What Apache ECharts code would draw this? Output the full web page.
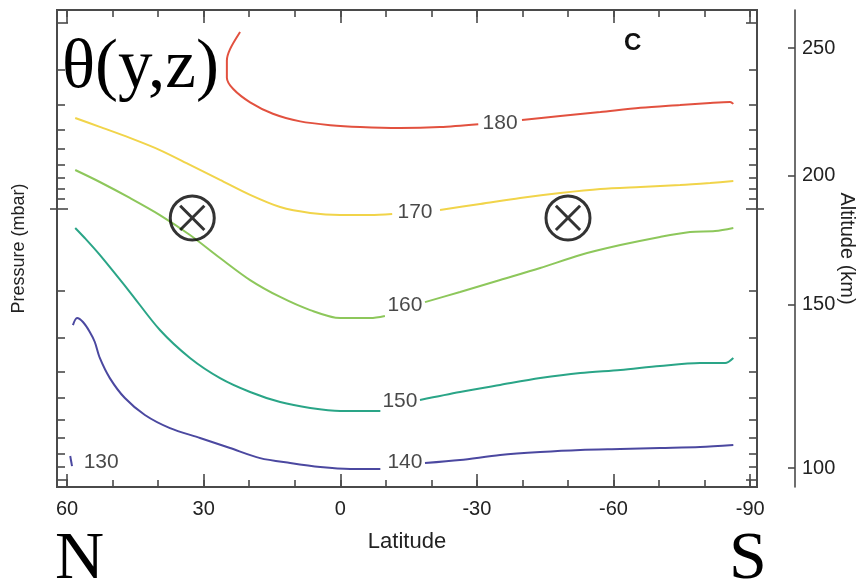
<!DOCTYPE html>
<html>
<head>
<meta charset="utf-8">
<script src="https://cdn.jsdelivr.net/npm/echarts@6/dist/echarts.min.js"></script>
<style>
  html, body { margin: 0; padding: 0; background: #fff; }
  #chart { width: 862px; height: 580px; }
</style>
</head>
<body>
<div id="chart"></div>
<script>
// Zonal-mean temperature contours (K) against latitude and log10 pressure (mbar).
// Each contour is a list of [latitude, log10(p)] points; null breaks the line where its label sits.

const LAT_LABELS = [60, 30, 0, -30, -60, -90];
const LAT_MINOR = [60, 50, 40, 30, 20, 10, 0, -10, -20, -30, -40, -50, -60, -70, -80, -90];
const LAT_RANGE = [-91.5, 62.2];

const LOGP_RANGE = [-1.026, 1.484];           // top / bottom of the frame
// pressure tick marks on the frame (log10 p)
const PRESSURE_TICK_MINOR = [-0.711, -0.526, -0.395, -0.295, -0.211, -0.142, -0.084, -0.032,
                             0.453, 0.700, 0.879, 1.016, 1.132, 1.226, 1.311, 1.379];
const PRESSURE_TICK_MAJOR = [-0.958, 0.021, 1.447];
const PRESSURE_TICK_CROSS = [0.021];

const ALT_KM = [250, 200, 150, 100];
const ALT_LOGP = [-0.826, -0.153, 0.526, 1.384];

const LEVELS = [180, 170, 160, 150, 140, 130];
const COLORS = ['#e2513f', '#f1d44a', '#8dc75b', '#2aa587', '#4b48a0', '#4b48a0'];

const T180 = [[22.0,-0.91],[24.2,-0.82],[24.9,-0.76],[24.9,-0.67],[23.5,-0.61],[19.8,-0.54],[14.8,-0.48],[8.8,-0.44],[2.2,-0.42],[-4.4,-0.41],[-13.1,-0.405],[-21.9,-0.41],[-30.3,-0.425],
  null,[-39.9,-0.447],[-48.3,-0.468],[-57.1,-0.489],[-65.9,-0.511],[-74.6,-0.526],[-81.2,-0.537],[-85.6,-0.542],[-86.3,-0.532]];
const T170 = [[58.2,-0.458],[52.8,-0.411],[46.2,-0.353],[39.6,-0.289],[33.0,-0.211],[26.4,-0.132],[19.8,-0.053],[13.2,0.011],[6.6,0.042],[0.0,0.053],[-6.6,0.053],[-11.4,0.047],
  null,[-21.9,0.026],[-30.7,-0.005],[-39.5,-0.037],[-48.3,-0.063],[-57.1,-0.084],[-65.9,-0.095],[-74.6,-0.105],[-81.2,-0.116],[-86.3,-0.126]];
const T160 = [[58.2,-0.184],[52.8,-0.121],[46.2,-0.037],[39.6,0.053],[33.0,0.158],[26.4,0.279],[19.8,0.395],[13.2,0.484],[6.6,0.553],[0.0,0.595],[-6.6,0.595],[-9.8,0.584],
  null,[-18.6,0.511],[-26.3,0.458],[-35.1,0.395],[-43.9,0.332],[-52.7,0.263],[-61.5,0.211],[-70.2,0.168],[-76.8,0.142],[-82.3,0.137],[-86.3,0.121]];
const T150 = [[58.2,0.121],[56.1,0.174],[52.8,0.263],[46.2,0.458],[39.6,0.658],[33.0,0.805],[26.4,0.911],[19.8,0.984],[13.2,1.037],[6.6,1.068],[0.0,1.084],[-8.8,1.084],
  null,[-17.5,1.026],[-26.3,0.984],[-35.1,0.947],[-43.9,0.911],[-52.7,0.884],[-61.5,0.868],[-70.2,0.847],[-79.0,0.832],[-84.5,0.832],[-86.3,0.805]];
const T140 = [[58.7,0.632],[57.8,0.595],[56.5,0.616],[55.0,0.668],[53.9,0.721],[52.8,0.805],[50.6,0.911],[47.3,1.016],[42.9,1.105],[37.4,1.174],[30.8,1.226],[24.2,1.279],[17.6,1.332],[11.0,1.358],[4.4,1.379],[-2.2,1.389],[-8.8,1.389],
  null,[-18.6,1.358],[-26.3,1.342],[-35.1,1.316],[-43.9,1.300],[-52.7,1.289],[-61.5,1.284],[-70.2,1.279],[-79.0,1.274],[-86.3,1.263]];
const T130 = [[59.3,1.321],[58.9,1.374]];
const CONTOURS = [T180, T170, T160, T150, T140, T130];

// contour label anchors: [lat, log10 p, level]
const LABEL_AT = [[-35.1,-0.432,180],[-16.4,0.037,170],[-14.2,0.526,160],[-13.1,1.032,150],[-14.2,1.353,140],[52.5,1.353,130]];

// jets flowing into the page: [lat, log10 p]
const JETS = [[32.5,0.068],[-50.0,0.068]];

const AXIS_COLOR = '#4a4a4a';
const SANS = 'Liberation Sans, Arial, Helvetica, sans-serif';
const SERIF = 'Liberation Serif, Times New Roman, serif';

const circleCross = 'path://M0,-20A20,20,0,1,1,0,20A20,20,0,1,1,0,-20ZM-11,-11L11,11M11,-11L-11,11';

function latAxis(pos, ticks, len, withLabels) {
  return {
    type: 'value', position: pos, min: LAT_RANGE[0], max: LAT_RANGE[1], inverse: true,
    axisLine: { show: false, onZero: false }, splitLine: { show: false },
    axisTick: { show: true, inside: true, length: len, customValues: ticks,
      lineStyle: { color: AXIS_COLOR, width: 1.6 } },
    axisLabel: withLabels
      ? { show: true, customValues: LAT_LABELS, fontSize: 20, color: '#222', fontFamily: SANS, margin: 12 }
      : { show: false }
  };
}
function pAxis(pos, ticks, len, inside) {
  return {
    type: 'value', position: pos, min: LOGP_RANGE[0], max: LOGP_RANGE[1], inverse: true,
    axisLine: { show: false, onZero: false }, splitLine: { show: false }, axisLabel: { show: false },
    axisTick: { show: true, inside: inside, length: len, customValues: ticks,
      lineStyle: { color: AXIS_COLOR, width: 1.6 } }
  };
}

const xAxes = [
  Object.assign(latAxis('bottom', LAT_MINOR, 7, true), {
    name: 'Latitude', nameLocation: 'middle', nameGap: 44, nameMoveOverlap: false,
    nameTextStyle: { fontSize: 22, color: '#222', fontFamily: SANS } }),
  latAxis('bottom', LAT_LABELS, 13, false),
  latAxis('top', LAT_MINOR, 7, false),
  latAxis('top', LAT_LABELS, 13, false)
];

const yAxes = [
  Object.assign(pAxis('left', PRESSURE_TICK_MINOR, 8, true), {
    name: 'Pressure (mbar)', nameLocation: 'middle', nameRotate: 90, nameGap: 29, nameMoveOverlap: false,
    nameTextStyle: { fontSize: 18, color: '#222', fontFamily: SANS } }),
  pAxis('left', PRESSURE_TICK_MAJOR, 11, true),
  pAxis('left', PRESSURE_TICK_CROSS, 7, false),
  pAxis('right', PRESSURE_TICK_MINOR, 8, true),
  pAxis('right', PRESSURE_TICK_MAJOR, 11, true),
  pAxis('right', PRESSURE_TICK_CROSS, 7, false),
  {
    type: 'value', position: 'right', offset: 38, min: LOGP_RANGE[0], max: LOGP_RANGE[1], inverse: true,
    splitLine: { show: false },
    axisLine: { show: true, onZero: false, lineStyle: { color: AXIS_COLOR, width: 1.6 } },
    axisTick: { show: true, inside: true, length: 7, customValues: ALT_LOGP,
      lineStyle: { color: AXIS_COLOR, width: 1.6 } },
    axisLabel: { show: true, customValues: ALT_LOGP, margin: 7, fontSize: 20, color: '#222', fontFamily: SANS,
      formatter: v => {
        let best = 0;
        ALT_LOGP.forEach((a, i) => { if (Math.abs(a - v) < Math.abs(ALT_LOGP[best] - v)) best = i; });
        return String(ALT_KM[best]);
      } },
    name: 'Altitude (km)', nameLocation: 'middle', nameRotate: -90, nameGap: 42, nameMoveOverlap: false,
    nameTextStyle: { fontSize: 20, color: '#222', fontFamily: SANS }
  }
];

const series = CONTOURS.map((pts, i) => ({
  type: 'line', name: String(LEVELS[i]), data: pts.map(p => p === null ? '-' : p),
  xAxisIndex: 0, yAxisIndex: 0, showSymbol: false, smooth: 0.3, connectNulls: false,
  lineStyle: { color: COLORS[i], width: 2 }, silent: true, z: 3
}));

series.push({
  type: 'scatter', data: LABEL_AT, xAxisIndex: 0, yAxisIndex: 0,
  symbolSize: 1, itemStyle: { color: 'rgba(0,0,0,0)' }, silent: true, z: 4,
  label: { show: true, position: 'inside', formatter: p => String(p.value[2]),
    fontSize: 21, color: '#1a1a1a', fontFamily: SANS }
});

series.push({
  type: 'scatter', data: JETS, xAxisIndex: 0, yAxisIndex: 0,
  symbol: circleCross, symbolSize: 44, silent: true, z: 5,
  itemStyle: { color: 'rgba(0,0,0,0)', borderColor: '#000', borderWidth: 3 }
});

const chart = echarts.init(document.getElementById('chart'), null, { renderer: 'canvas' });
chart.setOption({
  animation: false,
  backgroundColor: '#fff',
  grid: { left: 57, right: 105, top: 10, bottom: 93, show: true, outerBoundsMode: 'none', containLabel: false,
    borderColor: AXIS_COLOR, borderWidth: 2, backgroundColor: 'transparent' },
  xAxis: xAxes,
  yAxis: yAxes,
  series: series,
  graphic: [
    { type: 'text', left: 62, top: 34, z: 10,
      style: { text: 'θ(y,z)', font: '69px ' + SERIF, fill: '#000' } },
    { type: 'text', left: 624, top: 31, z: 10,
      style: { text: 'C', font: 'bold 24px ' + SANS, fill: '#111' } },
    { type: 'text', left: 55, top: 526, z: 10,
      style: { text: 'N', font: '68px ' + SERIF, fill: '#000' } },
    { type: 'text', left: 729, top: 526, z: 10,
      style: { text: 'S', font: '68px ' + SERIF, fill: '#000' } }
  ]
});
</script>
</body>
</html>
